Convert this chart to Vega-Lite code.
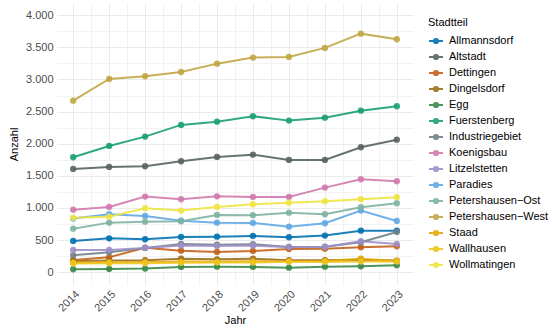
{
  "$schema": "https://vega.github.io/schema/vega-lite/v6.json",
  "width": 356,
  "height": 282,
  "autosize": "none",
  "padding": {"left": 57, "top": 3, "right": 145, "bottom": 44},
  "background": "white",
  "config": {
    "font": "Liberation Sans",
    "view": {"stroke": null},
    "axis": {"labelFont": "Liberation Sans", "titleFont": "Liberation Sans", "labelFontSize": 11, "titleFontSize": 11, "titleFontWeight": "normal", "labelColor": "#4D4D4D", "titleColor": "#000000", "ticks": false, "domain": false, "gridColor": "#EBEBEB"},
    "legend": {"labelFont": "Liberation Sans", "titleFont": "Liberation Sans", "labelFontSize": 11, "titleFontSize": 11, "titleFontWeight": "normal", "labelColor": "#000000", "titleColor": "#000000"}
  },
  "data": {"values": [
    {"Jahr": 2014, "Stadtteil": "Allmannsdorf", "Anzahl": 486}, {"Jahr": 2015, "Stadtteil": "Allmannsdorf", "Anzahl": 527}, {"Jahr": 2016, "Stadtteil": "Allmannsdorf", "Anzahl": 512}, {"Jahr": 2017, "Stadtteil": "Allmannsdorf", "Anzahl": 548}, {"Jahr": 2018, "Stadtteil": "Allmannsdorf", "Anzahl": 553}, {"Jahr": 2019, "Stadtteil": "Allmannsdorf", "Anzahl": 564}, {"Jahr": 2020, "Stadtteil": "Allmannsdorf", "Anzahl": 543}, {"Jahr": 2021, "Stadtteil": "Allmannsdorf", "Anzahl": 569}, {"Jahr": 2022, "Stadtteil": "Allmannsdorf", "Anzahl": 646}, {"Jahr": 2023, "Stadtteil": "Allmannsdorf", "Anzahl": 646},
    {"Jahr": 2014, "Stadtteil": "Altstadt", "Anzahl": 1607}, {"Jahr": 2015, "Stadtteil": "Altstadt", "Anzahl": 1638}, {"Jahr": 2016, "Stadtteil": "Altstadt", "Anzahl": 1649}, {"Jahr": 2017, "Stadtteil": "Altstadt", "Anzahl": 1727}, {"Jahr": 2018, "Stadtteil": "Altstadt", "Anzahl": 1794}, {"Jahr": 2019, "Stadtteil": "Altstadt", "Anzahl": 1829}, {"Jahr": 2020, "Stadtteil": "Altstadt", "Anzahl": 1747}, {"Jahr": 2021, "Stadtteil": "Altstadt", "Anzahl": 1747}, {"Jahr": 2022, "Stadtteil": "Altstadt", "Anzahl": 1944}, {"Jahr": 2023, "Stadtteil": "Altstadt", "Anzahl": 2062},
    {"Jahr": 2014, "Stadtteil": "Dettingen", "Anzahl": 190}, {"Jahr": 2015, "Stadtteil": "Dettingen", "Anzahl": 232}, {"Jahr": 2016, "Stadtteil": "Dettingen", "Anzahl": 381}, {"Jahr": 2017, "Stadtteil": "Dettingen", "Anzahl": 335}, {"Jahr": 2018, "Stadtteil": "Dettingen", "Anzahl": 314}, {"Jahr": 2019, "Stadtteil": "Dettingen", "Anzahl": 330}, {"Jahr": 2020, "Stadtteil": "Dettingen", "Anzahl": 361}, {"Jahr": 2021, "Stadtteil": "Dettingen", "Anzahl": 366}, {"Jahr": 2022, "Stadtteil": "Dettingen", "Anzahl": 388}, {"Jahr": 2023, "Stadtteil": "Dettingen", "Anzahl": 403},
    {"Jahr": 2014, "Stadtteil": "Dingelsdorf", "Anzahl": 170}, {"Jahr": 2015, "Stadtteil": "Dingelsdorf", "Anzahl": 180}, {"Jahr": 2016, "Stadtteil": "Dingelsdorf", "Anzahl": 185}, {"Jahr": 2017, "Stadtteil": "Dingelsdorf", "Anzahl": 210}, {"Jahr": 2018, "Stadtteil": "Dingelsdorf", "Anzahl": 200}, {"Jahr": 2019, "Stadtteil": "Dingelsdorf", "Anzahl": 210}, {"Jahr": 2020, "Stadtteil": "Dingelsdorf", "Anzahl": 185}, {"Jahr": 2021, "Stadtteil": "Dingelsdorf", "Anzahl": 185}, {"Jahr": 2022, "Stadtteil": "Dingelsdorf", "Anzahl": 195}, {"Jahr": 2023, "Stadtteil": "Dingelsdorf", "Anzahl": 180},
    {"Jahr": 2014, "Stadtteil": "Egg", "Anzahl": 45}, {"Jahr": 2015, "Stadtteil": "Egg", "Anzahl": 50}, {"Jahr": 2016, "Stadtteil": "Egg", "Anzahl": 55}, {"Jahr": 2017, "Stadtteil": "Egg", "Anzahl": 81}, {"Jahr": 2018, "Stadtteil": "Egg", "Anzahl": 86}, {"Jahr": 2019, "Stadtteil": "Egg", "Anzahl": 81}, {"Jahr": 2020, "Stadtteil": "Egg", "Anzahl": 70}, {"Jahr": 2021, "Stadtteil": "Egg", "Anzahl": 86}, {"Jahr": 2022, "Stadtteil": "Egg", "Anzahl": 91}, {"Jahr": 2023, "Stadtteil": "Egg", "Anzahl": 107},
    {"Jahr": 2014, "Stadtteil": "Fuerstenberg", "Anzahl": 1789}, {"Jahr": 2015, "Stadtteil": "Fuerstenberg", "Anzahl": 1965}, {"Jahr": 2016, "Stadtteil": "Fuerstenberg", "Anzahl": 2110}, {"Jahr": 2017, "Stadtteil": "Fuerstenberg", "Anzahl": 2292}, {"Jahr": 2018, "Stadtteil": "Fuerstenberg", "Anzahl": 2343}, {"Jahr": 2019, "Stadtteil": "Fuerstenberg", "Anzahl": 2427}, {"Jahr": 2020, "Stadtteil": "Fuerstenberg", "Anzahl": 2359}, {"Jahr": 2021, "Stadtteil": "Fuerstenberg", "Anzahl": 2405}, {"Jahr": 2022, "Stadtteil": "Fuerstenberg", "Anzahl": 2514}, {"Jahr": 2023, "Stadtteil": "Fuerstenberg", "Anzahl": 2583},
    {"Jahr": 2014, "Stadtteil": "Industriegebiet", "Anzahl": 262}, {"Jahr": 2015, "Stadtteil": "Industriegebiet", "Anzahl": 310}, {"Jahr": 2016, "Stadtteil": "Industriegebiet", "Anzahl": 377}, {"Jahr": 2017, "Stadtteil": "Industriegebiet", "Anzahl": 439}, {"Jahr": 2018, "Stadtteil": "Industriegebiet", "Anzahl": 428}, {"Jahr": 2019, "Stadtteil": "Industriegebiet", "Anzahl": 434}, {"Jahr": 2020, "Stadtteil": "Industriegebiet", "Anzahl": 392}, {"Jahr": 2021, "Stadtteil": "Industriegebiet", "Anzahl": 395}, {"Jahr": 2022, "Stadtteil": "Industriegebiet", "Anzahl": 465}, {"Jahr": 2023, "Stadtteil": "Industriegebiet", "Anzahl": 626},
    {"Jahr": 2014, "Stadtteil": "Koenigsbau", "Anzahl": 973}, {"Jahr": 2015, "Stadtteil": "Koenigsbau", "Anzahl": 1015}, {"Jahr": 2016, "Stadtteil": "Koenigsbau", "Anzahl": 1176}, {"Jahr": 2017, "Stadtteil": "Koenigsbau", "Anzahl": 1135}, {"Jahr": 2018, "Stadtteil": "Koenigsbau", "Anzahl": 1181}, {"Jahr": 2019, "Stadtteil": "Koenigsbau", "Anzahl": 1171}, {"Jahr": 2020, "Stadtteil": "Koenigsbau", "Anzahl": 1171}, {"Jahr": 2021, "Stadtteil": "Koenigsbau", "Anzahl": 1316}, {"Jahr": 2022, "Stadtteil": "Koenigsbau", "Anzahl": 1446}, {"Jahr": 2023, "Stadtteil": "Koenigsbau", "Anzahl": 1415},
    {"Jahr": 2014, "Stadtteil": "Litzelstetten", "Anzahl": 346}, {"Jahr": 2015, "Stadtteil": "Litzelstetten", "Anzahl": 346}, {"Jahr": 2016, "Stadtteil": "Litzelstetten", "Anzahl": 377}, {"Jahr": 2017, "Stadtteil": "Litzelstetten", "Anzahl": 413}, {"Jahr": 2018, "Stadtteil": "Litzelstetten", "Anzahl": 408}, {"Jahr": 2019, "Stadtteil": "Litzelstetten", "Anzahl": 413}, {"Jahr": 2020, "Stadtteil": "Litzelstetten", "Anzahl": 392}, {"Jahr": 2021, "Stadtteil": "Litzelstetten", "Anzahl": 392}, {"Jahr": 2022, "Stadtteil": "Litzelstetten", "Anzahl": 481}, {"Jahr": 2023, "Stadtteil": "Litzelstetten", "Anzahl": 439},
    {"Jahr": 2014, "Stadtteil": "Paradies", "Anzahl": 835}, {"Jahr": 2015, "Stadtteil": "Paradies", "Anzahl": 901}, {"Jahr": 2016, "Stadtteil": "Paradies", "Anzahl": 875}, {"Jahr": 2017, "Stadtteil": "Paradies", "Anzahl": 802}, {"Jahr": 2018, "Stadtteil": "Paradies", "Anzahl": 771}, {"Jahr": 2019, "Stadtteil": "Paradies", "Anzahl": 766}, {"Jahr": 2020, "Stadtteil": "Paradies", "Anzahl": 708}, {"Jahr": 2021, "Stadtteil": "Paradies", "Anzahl": 761}, {"Jahr": 2022, "Stadtteil": "Paradies", "Anzahl": 958}, {"Jahr": 2023, "Stadtteil": "Paradies", "Anzahl": 797},
    {"Jahr": 2014, "Stadtteil": "Petershausen-Ost", "Anzahl": 677}, {"Jahr": 2015, "Stadtteil": "Petershausen-Ost", "Anzahl": 771}, {"Jahr": 2016, "Stadtteil": "Petershausen-Ost", "Anzahl": 786}, {"Jahr": 2017, "Stadtteil": "Petershausen-Ost", "Anzahl": 792}, {"Jahr": 2018, "Stadtteil": "Petershausen-Ost", "Anzahl": 891}, {"Jahr": 2019, "Stadtteil": "Petershausen-Ost", "Anzahl": 886}, {"Jahr": 2020, "Stadtteil": "Petershausen-Ost", "Anzahl": 926}, {"Jahr": 2021, "Stadtteil": "Petershausen-Ost", "Anzahl": 901}, {"Jahr": 2022, "Stadtteil": "Petershausen-Ost", "Anzahl": 1010}, {"Jahr": 2023, "Stadtteil": "Petershausen-Ost", "Anzahl": 1073},
    {"Jahr": 2014, "Stadtteil": "Petershausen-West", "Anzahl": 2670}, {"Jahr": 2015, "Stadtteil": "Petershausen-West", "Anzahl": 3008}, {"Jahr": 2016, "Stadtteil": "Petershausen-West", "Anzahl": 3050}, {"Jahr": 2017, "Stadtteil": "Petershausen-West", "Anzahl": 3117}, {"Jahr": 2018, "Stadtteil": "Petershausen-West", "Anzahl": 3246}, {"Jahr": 2019, "Stadtteil": "Petershausen-West", "Anzahl": 3340}, {"Jahr": 2020, "Stadtteil": "Petershausen-West", "Anzahl": 3350}, {"Jahr": 2021, "Stadtteil": "Petershausen-West", "Anzahl": 3491}, {"Jahr": 2022, "Stadtteil": "Petershausen-West", "Anzahl": 3713}, {"Jahr": 2023, "Stadtteil": "Petershausen-West", "Anzahl": 3626},
    {"Jahr": 2014, "Stadtteil": "Staad", "Anzahl": 150}, {"Jahr": 2015, "Stadtteil": "Staad", "Anzahl": 155}, {"Jahr": 2016, "Stadtteil": "Staad", "Anzahl": 160}, {"Jahr": 2017, "Stadtteil": "Staad", "Anzahl": 165}, {"Jahr": 2018, "Stadtteil": "Staad", "Anzahl": 165}, {"Jahr": 2019, "Stadtteil": "Staad", "Anzahl": 170}, {"Jahr": 2020, "Stadtteil": "Staad", "Anzahl": 170}, {"Jahr": 2021, "Stadtteil": "Staad", "Anzahl": 175}, {"Jahr": 2022, "Stadtteil": "Staad", "Anzahl": 210}, {"Jahr": 2023, "Stadtteil": "Staad", "Anzahl": 175},
    {"Jahr": 2014, "Stadtteil": "Wallhausen", "Anzahl": 135}, {"Jahr": 2015, "Stadtteil": "Wallhausen", "Anzahl": 140}, {"Jahr": 2016, "Stadtteil": "Wallhausen", "Anzahl": 140}, {"Jahr": 2017, "Stadtteil": "Wallhausen", "Anzahl": 145}, {"Jahr": 2018, "Stadtteil": "Wallhausen", "Anzahl": 150}, {"Jahr": 2019, "Stadtteil": "Wallhausen", "Anzahl": 150}, {"Jahr": 2020, "Stadtteil": "Wallhausen", "Anzahl": 160}, {"Jahr": 2021, "Stadtteil": "Wallhausen", "Anzahl": 160}, {"Jahr": 2022, "Stadtteil": "Wallhausen", "Anzahl": 165}, {"Jahr": 2023, "Stadtteil": "Wallhausen", "Anzahl": 165},
    {"Jahr": 2014, "Stadtteil": "Wollmatingen", "Anzahl": 845}, {"Jahr": 2015, "Stadtteil": "Wollmatingen", "Anzahl": 864}, {"Jahr": 2016, "Stadtteil": "Wollmatingen", "Anzahl": 995}, {"Jahr": 2017, "Stadtteil": "Wollmatingen", "Anzahl": 958}, {"Jahr": 2018, "Stadtteil": "Wollmatingen", "Anzahl": 1015}, {"Jahr": 2019, "Stadtteil": "Wollmatingen", "Anzahl": 1057}, {"Jahr": 2020, "Stadtteil": "Wollmatingen", "Anzahl": 1082}, {"Jahr": 2021, "Stadtteil": "Wollmatingen", "Anzahl": 1104}, {"Jahr": 2022, "Stadtteil": "Wollmatingen", "Anzahl": 1135}, {"Jahr": 2023, "Stadtteil": "Wollmatingen", "Anzahl": 1166}
  ]},
  "mark": {"type": "line", "strokeWidth": 2, "opacity": 0.9, "point": {"filled": true, "size": 40, "opacity": 0.9}},
  "encoding": {
    "x": {
      "field": "Jahr", "type": "quantitative", "title": "Jahr",
      "scale": {"domain": [2013.55, 2023.45], "nice": false, "zero": false},
      "axis": {
        "values": [2014, 2014.5, 2015, 2015.5, 2016, 2016.5, 2017, 2017.5, 2018, 2018.5, 2019, 2019.5, 2020, 2020.5, 2021, 2021.5, 2022, 2022.5, 2023],
        "labelExpr": "datum.value % 1 === 0 ? format(datum.value, 'd') : ''",
        "labelAngle": -45, "labelAlign": "right", "labelBaseline": "top", "labelPadding": 3,
        "gridWidth": {"condition": {"test": "datum.value % 1 === 0", "value": 1}, "value": 0.6},
        "titlePadding": 1, "titleFontWeight": "normal"
      }
    },
    "y": {
      "field": "Anzahl", "type": "quantitative", "title": "Anzahl",
      "scale": {"domain": [-200, 4190], "nice": false, "zero": false},
      "axis": {
        "values": [0, 250, 500, 750, 1000, 1250, 1500, 1750, 2000, 2250, 2500, 2750, 3000, 3250, 3500, 3750, 4000],
        "labelExpr": "datum.value % 500 === 0 ? replace(format(datum.value, ','), ',', '.') : ''",
        "labelPadding": 4,
        "gridWidth": {"condition": {"test": "datum.value % 500 === 0", "value": 1}, "value": 0.6},
        "titlePadding": 6, "titleFontWeight": "normal"
      }
    },
    "color": {
      "field": "Stadtteil", "type": "nominal", "title": "Stadtteil",
      "scale": {
        "domain": ["Allmannsdorf", "Altstadt", "Dettingen", "Dingelsdorf", "Egg", "Fuerstenberg", "Industriegebiet", "Koenigsbau", "Litzelstetten", "Paradies", "Petershausen-Ost", "Petershausen-West", "Staad", "Wallhausen", "Wollmatingen"],
        "range": ["#0072B2", "#56655D", "#C4601A", "#9A6F1E", "#3A8A4A", "#1B9E77", "#708287", "#D07AAE", "#9F8FC9", "#62A8E5", "#7FB3A3", "#C1A646", "#E8A70C", "#EDC61F", "#F0E442"]
      },
      "legend": {
        "orient": "none", "legendX": 371, "legendY": 14,
        "symbolType": "M-1,0L1,0M-0.3,0A0.3,0.3,0,1,1,0.3,0A0.3,0.3,0,1,1,-0.3,0Z",
        "symbolSize": 196, "symbolStrokeWidth": 2, "rowPadding": 1, "labelOffset": 5, "titlePadding": 5, "titleFontWeight": "normal",
        "labelExpr": "replace(datum.label, '-', '−')",
        "encode": {"symbols": {"update": {"fill": {"scale": "color", "field": "value"}, "stroke": {"scale": "color", "field": "value"}, "opacity": {"value": 1}}}}
      }
    }
  }
}
